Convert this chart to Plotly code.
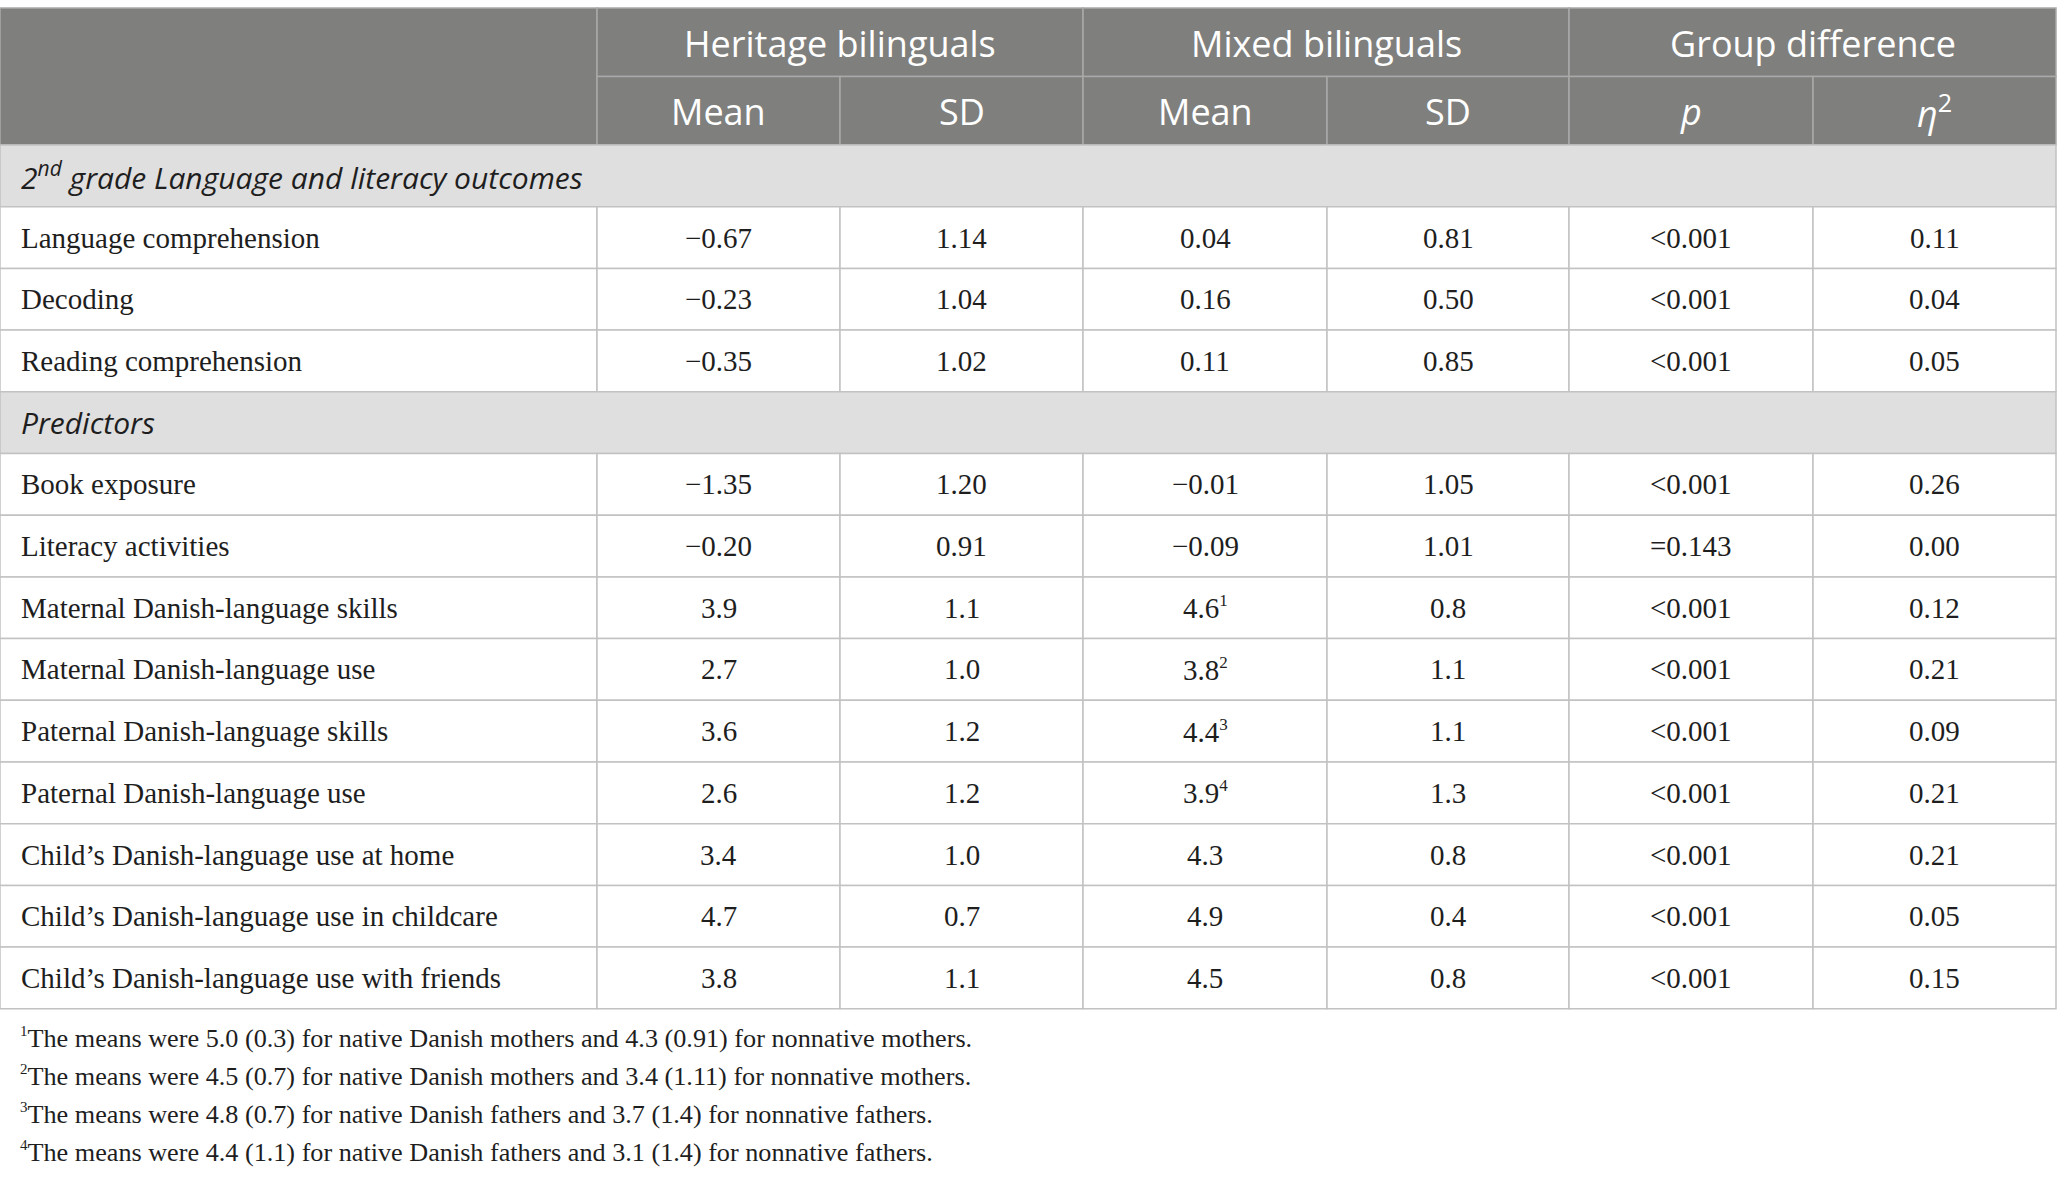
import plotly.graph_objects as go

# table content
group_headers = ["Heritage bilinguals", "Mixed bilinguals", "Group difference"]
sub_headers = ["Mean", "SD", "Mean", "SD", "<i>p</i>", "<i>η</i><sup>2</sup>"]

section_titles = ["2<sup>nd</sup> grade Language and literacy outcomes", "Predictors"]

outcome_labels = ["Language comprehension", "Decoding", "Reading comprehension"]
outcome_her_mean = ["−0.67", "−0.23", "−0.35"]
outcome_her_sd = ["1.14", "1.04", "1.02"]
outcome_mix_mean = ["0.04", "0.16", "0.11"]
outcome_mix_sd = ["0.81", "0.50", "0.85"]
outcome_p = ["<0.001", "<0.001", "<0.001"]
outcome_eta = ["0.11", "0.04", "0.05"]

pred_labels = [
    "Book exposure",
    "Literacy activities",
    "Maternal Danish-language skills",
    "Maternal Danish-language use",
    "Paternal Danish-language skills",
    "Paternal Danish-language use",
    "Child’s Danish-language use at home",
    "Child’s Danish-language use in childcare",
    "Child’s Danish-language use with friends",
]
pred_her_mean = ["−1.35", "−0.20", "3.9", "2.7", "3.6", "2.6", "3.4", "4.7", "3.8"]
pred_her_sd = ["1.20", "0.91", "1.1", "1.0", "1.2", "1.2", "1.0", "0.7", "1.1"]
pred_mix_mean = ["−0.01", "−0.09", "4.6", "3.8", "4.4", "3.9", "4.3", "4.9", "4.5"]
pred_mix_note = ["", "", "1", "2", "3", "4", "", "", ""]
pred_mix_sd = ["1.05", "1.01", "0.8", "1.1", "1.1", "1.3", "0.8", "0.4", "0.8"]
pred_p = ["<0.001", "=0.143", "<0.001", "<0.001", "<0.001", "<0.001", "<0.001", "<0.001", "<0.001"]
pred_eta = ["0.26", "0.00", "0.12", "0.21", "0.09", "0.21", "0.21", "0.05", "0.15"]

footnote_marks = ["1", "2", "3", "4"]
footnotes = [
    "The means were 5.0 (0.3) for native Danish mothers and 4.3 (0.91) for nonnative mothers.",
    "The means were 4.5 (0.7) for native Danish mothers and 3.4 (1.11) for nonnative mothers.",
    "The means were 4.8 (0.7) for native Danish fathers and 3.7 (1.4) for nonnative fathers.",
    "The means were 4.4 (1.1) for native Danish fathers and 3.1 (1.4) for nonnative fathers.",
]

# layout (pixels)
W, H = 2057, 1178
col_edges = [0, 597, 840, 1083, 1327, 1569, 1813, 2056]
top = 8
head_h = 68.5
row_h = 61.7
label_x = 19

HEAD_FILL = "#7f807e"
HEAD_LINE = "#a9a9a9"
SECT_FILL = "#e0dfdf"
GRID = "#c2c2c2"
TEXT = "#1e1e1e"
SANS = "Open Sans"
SERIF = "Liberation Serif"

shapes = []
annotations = []


def rect(x0, y0, x1, y1, fill, line):
    shapes.append(dict(type="rect", xref="x", yref="y", x0=x0, x1=x1, y0=y0, y1=y1,
                       fillcolor=fill, line=dict(color=line, width=1.5), layer="below"))


def text(x, y, s, size, color, family, anchor="center"):
    annotations.append(dict(x=x, y=y, xref="x", yref="y", text=s, showarrow=False,
                            xanchor=anchor, yanchor="middle",
                            font=dict(size=size, color=color, family=family)))


def small_sup(mark, px):
    return "<sup><span style='font-size:%dpx'>%s</span></sup>" % (px, mark) if mark else ""


# header
y1 = top + head_h
y2 = top + 2 * head_h
rect(col_edges[0], top, col_edges[1], y2, HEAD_FILL, HEAD_LINE)
for g, name in enumerate(group_headers):
    a, b = col_edges[1 + 2 * g], col_edges[3 + 2 * g]
    rect(a, top, b, y1, HEAD_FILL, HEAD_LINE)
    text((a + b) / 2, (top + y1) / 2 + 1, name, 36, "white", SANS)
for c, name in enumerate(sub_headers):
    a, b = col_edges[1 + c], col_edges[2 + c]
    rect(a, y1, b, y2, HEAD_FILL, HEAD_LINE)
    text((a + b) / 2, (y1 + y2) / 2 + 1, name, 36, "white", SANS)

# body
y = y2
blocks = [
    (section_titles[0], outcome_labels,
     [outcome_her_mean, outcome_her_sd, outcome_mix_mean, outcome_mix_sd, outcome_p, outcome_eta],
     ["", "", ""]),
    (section_titles[1], pred_labels,
     [pred_her_mean, pred_her_sd, pred_mix_mean, pred_mix_sd, pred_p, pred_eta],
     pred_mix_note),
]
for title, labels, cols, notes in blocks:
    rect(col_edges[0], y, col_edges[-1], y + row_h, SECT_FILL, GRID)
    text(label_x, y + row_h / 2, "<i>" + title + "</i>", 30, TEXT, SANS, "left")
    y += row_h
    for r, lab in enumerate(labels):
        rect(col_edges[0], y, col_edges[1], y + row_h, "white", GRID)
        text(label_x, y + row_h / 2, lab, 29, TEXT, SERIF, "left")
        for c, vals in enumerate(cols):
            a, b = col_edges[1 + c], col_edges[2 + c]
            rect(a, y, b, y + row_h, "white", GRID)
            s = vals[r] + (small_sup(notes[r], 17) if c == 2 else "")
            text((a + b) / 2, y + row_h / 2, s, 29, TEXT, SERIF)
        y += row_h

# footnotes
fy = y + 29
for mark, note in zip(footnote_marks, footnotes):
    text(label_x - 1, fy, small_sup(mark, 15) + note, 26.2, TEXT, SERIF, "left")
    fy += 38

fig = go.Figure()
fig.add_trace(go.Scatter(x=[0, W], y=[0, H], mode="markers", marker=dict(opacity=0),
                         hoverinfo="skip", showlegend=False))
fig.update_layout(
    width=W, height=H,
    margin=dict(l=0, r=0, t=0, b=0),
    paper_bgcolor="white", plot_bgcolor="white",
    xaxis=dict(range=[0, W], visible=False, fixedrange=True),
    yaxis=dict(range=[H, 0], visible=False, fixedrange=True),
    shapes=shapes,
    annotations=annotations,
)

fig.write_html("out.html", config={"displayModeBar": False},
               post_script="document.body.style.margin='0';document.body.style.overflow='hidden';")
